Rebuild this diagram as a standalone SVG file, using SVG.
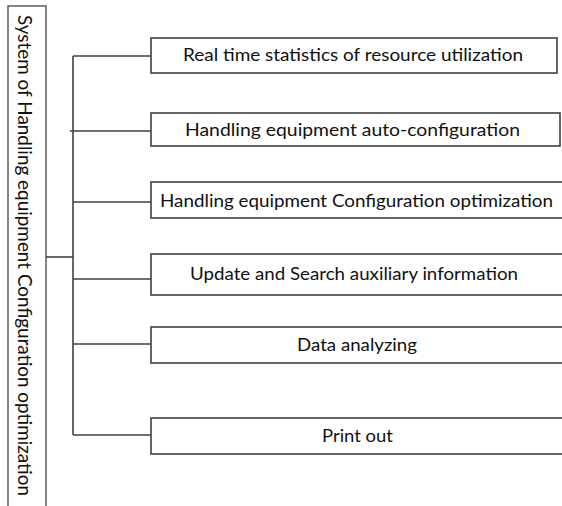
<svg xmlns="http://www.w3.org/2000/svg" width="562" height="506" viewBox="0 0 562 506">
<style>
.box{fill:#fff;stroke:#404040;stroke-width:1.6}
.side{fill:#fff;stroke:#505050;stroke-width:1.4}
.lbl{font-family:Lato,"Open Sans","Liberation Sans",sans-serif;font-size:16.5px;fill:#111;text-anchor:middle}
.conn{stroke:#404040;stroke-width:1.6;fill:none}
</style>
<rect width="562" height="506" fill="#fff"/>
<g id="root">
<rect class="side" x="8" y="6" width="38" height="510"/>
<text class="lbl" style="font-size:18.5px" transform="translate(18,255.5) rotate(90)" textLength="481" lengthAdjust="spacingAndGlyphs">System of Handling equipment Configuration optimization</text>
</g>
<g id="connectors">
<line class="conn" x1="46" y1="257" x2="73" y2="257"/>
<line class="conn" x1="73" y1="56" x2="73" y2="435"/>
<line class="conn" x1="73" y1="56" x2="151" y2="56"/>
<line class="conn" x1="70" y1="131" x2="151" y2="131"/>
<line class="conn" x1="73" y1="202" x2="151" y2="202"/>
<line class="conn" x1="73" y1="279" x2="151" y2="279"/>
<line class="conn" x1="73" y1="344" x2="151" y2="344"/>
<line class="conn" x1="73" y1="435" x2="151" y2="435"/>
</g>
<g id="n1">
<rect class="box" x="151" y="38" width="406" height="35"/>
<text class="lbl" x="353" y="61" textLength="340" lengthAdjust="spacingAndGlyphs">Real time statistics of resource utilization</text>
</g>
<g id="n2">
<rect class="box" x="151" y="113" width="409" height="33"/>
<text class="lbl" x="352.5" y="136" textLength="335" lengthAdjust="spacingAndGlyphs">Handling equipment auto-configuration</text>
</g>
<g id="n3">
<rect class="box" x="151" y="182" width="414" height="36"/>
<text class="lbl" x="356.5" y="207" textLength="393" lengthAdjust="spacingAndGlyphs">Handling equipment Configuration optimization</text>
</g>
<g id="n4">
<rect class="box" x="151" y="254" width="414" height="41"/>
<text class="lbl" x="354" y="280" textLength="328" lengthAdjust="spacingAndGlyphs">Update and Search auxiliary information</text>
</g>
<g id="n5">
<rect class="box" x="151" y="327" width="414" height="36"/>
<text class="lbl" x="357" y="351" textLength="120" lengthAdjust="spacingAndGlyphs">Data analyzing</text>
</g>
<g id="n6">
<rect class="box" x="151" y="418" width="414" height="36"/>
<text class="lbl" x="357.5" y="442" textLength="71" lengthAdjust="spacingAndGlyphs">Print out</text>
</g>
</svg>
